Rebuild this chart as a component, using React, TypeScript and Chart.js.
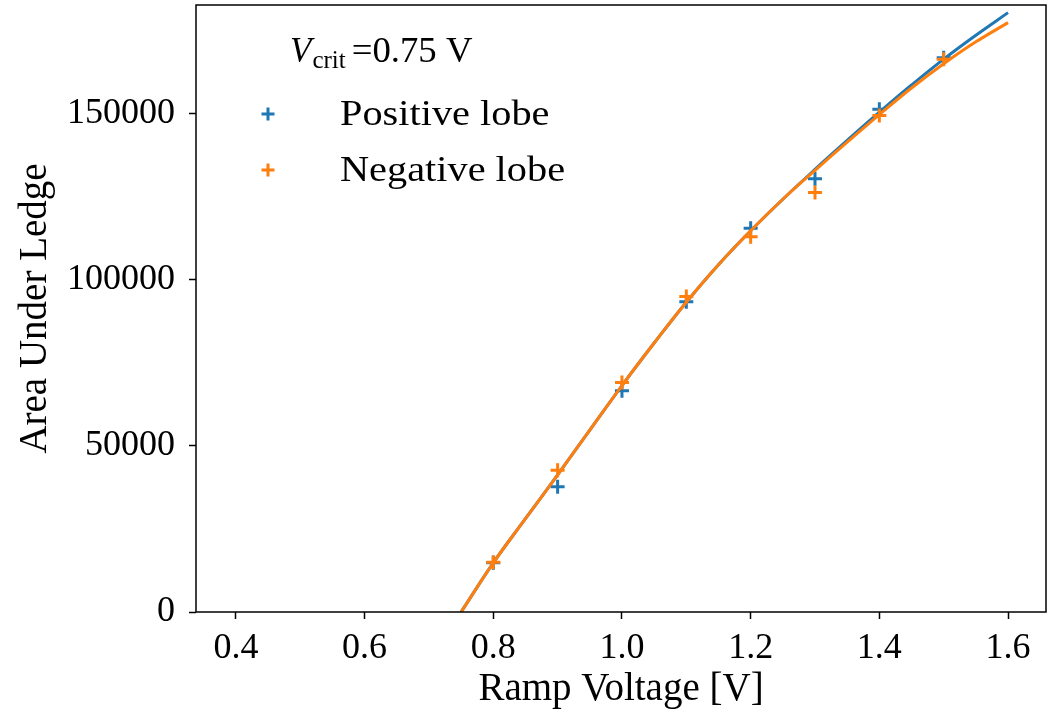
import React, { useEffect, useRef } from "react";
import { Chart, registerables } from "chart.js";

Chart.register(...registerables);

// ---- data ----
const voltages = [0.8, 0.9, 1.0, 1.1, 1.2, 1.3, 1.4, 1.5];
const positiveLobe = [14800, 37700, 66600, 93400, 115600, 130500, 151400, 166900];
const negativeLobe = [15000, 42700, 69100, 95000, 113000, 126300, 149500, 166500];

const fitVoltages = [0.75, 0.8, 0.85, 0.9, 0.95, 1.0, 1.05, 1.1, 1.15, 1.2, 1.25, 1.3, 1.35, 1.4, 1.45, 1.5, 1.55, 1.6];
const positiveFit = [0, 14800, 28100, 41300, 54800, 68200, 81000, 93300, 104600, 114800, 124300, 133300, 142000, 150500, 158700, 166500, 173700, 180500];
const negativeFit = [0, 14800, 28100, 41300, 54800, 68200, 81000, 93300, 104600, 114800, 124300, 133000, 141500, 149800, 157800, 165100, 171700, 177500];

const xTicks = [0.4, 0.6, 0.8, 1.0, 1.2, 1.4, 1.6];
const yTicks = [0, 50000, 100000, 150000];

const legendTitleSymbol = "V";
const legendTitleSub = "crit";
const legendTitleRest = "=0.75 V";
const seriesNames = ["Positive lobe", "Negative lobe"];

const BLUE = "#1f77b4";
const ORANGE = "#ff7f0e";
const FONT = '"Liberation Serif", "Times New Roman", serif';

const frameAndLegend = {
  id: "frameAndLegend",
  afterDraw(chart: any) {
    const ctx = chart.ctx;
    const a = chart.chartArea;
    ctx.save();
    // frame
    ctx.strokeStyle = "#000";
    ctx.lineWidth = 1.5;
    ctx.strokeRect(a.left, a.top, a.right - a.left, a.bottom - a.top);

    // legend title
    ctx.fillStyle = "#000";
    ctx.textBaseline = "alphabetic";
    ctx.textAlign = "left";
    let x = a.left + 94;
    const yb = a.top + 57;
    ctx.font = `italic 35px ${FONT}`;
    ctx.fillText(legendTitleSymbol, x, yb);
    x += ctx.measureText(legendTitleSymbol).width + 1;
    ctx.font = `25px ${FONT}`;
    ctx.fillText(legendTitleSub, x, yb + 6);
    x += ctx.measureText(legendTitleSub).width + 6;
    ctx.font = `35px ${FONT}`;
    ctx.save();
    ctx.translate(x, yb);
    ctx.scale(1.05, 1);
    ctx.fillText(legendTitleRest, 0, 0);
    ctx.restore();

    // entries
    const colors = [BLUE, ORANGE];
    seriesNames.forEach((name, i) => {
      const cy = a.top + 109 + i * 56;
      const mx = a.left + 72;
      ctx.strokeStyle = colors[i];
      ctx.lineWidth = 3;
      ctx.beginPath();
      ctx.moveTo(mx - 6.5, cy);
      ctx.lineTo(mx + 6.5, cy);
      ctx.moveTo(mx, cy - 6.5);
      ctx.lineTo(mx, cy + 6.5);
      ctx.stroke();
      ctx.fillStyle = "#000";
      ctx.font = `36px ${FONT}`;
      ctx.save();
      ctx.translate(a.left + 144, cy + 11);
      ctx.scale(1.12, 1);
      ctx.fillText(name, 0, 0);
      ctx.restore();
    });
    ctx.restore();
  },
};

export default function App() {
  const ref = useRef<HTMLCanvasElement | null>(null);

  useEffect(() => {
    document.body.style.margin = "0";
    const canvas = ref.current;
    if (!canvas) return;
    const chart = new Chart(canvas, {
      type: "scatter",
      data: {
        datasets: [
          {
            label: seriesNames[0],
            data: voltages.map((v, i) => ({ x: v, y: positiveLobe[i] })),
            showLine: false,
            pointStyle: "cross",
            pointRadius: 7,
            pointBorderWidth: 3,
            borderColor: BLUE,
            backgroundColor: BLUE,
            order: 4,
          },
          {
            label: "fit positive",
            data: fitVoltages.map((v, i) => ({ x: v, y: positiveFit[i] })),
            showLine: true,
            pointRadius: 0,
            borderColor: BLUE,
            borderWidth: 3,
            tension: 0.4,
            order: 3,
          },
          {
            label: seriesNames[1],
            data: voltages.map((v, i) => ({ x: v, y: negativeLobe[i] })),
            showLine: false,
            pointStyle: "cross",
            pointRadius: 7,
            pointBorderWidth: 3,
            borderColor: ORANGE,
            backgroundColor: ORANGE,
            order: 2,
          },
          {
            label: "fit negative",
            data: fitVoltages.map((v, i) => ({ x: v, y: negativeFit[i] })),
            showLine: true,
            pointRadius: 0,
            borderColor: ORANGE,
            borderWidth: 3,
            tension: 0.4,
            order: 1,
          },
        ] as any,
      },
      options: {
        animation: false,
        responsive: false,
        devicePixelRatio: 1,
        layout: { autoPadding: false, padding: { top: 5, right: 8, left: 0, bottom: 0 } },
        plugins: {
          legend: { display: false },
          tooltip: { enabled: false },
        },
        scales: {
          x: {
            type: "linear",
            min: 0.338,
            max: 1.659,
            afterFit: (s: any) => {
              s.height = 102;
              s.paddingLeft = 0;
              s.paddingRight = 0;
              s.paddingTop = 0;
              s.paddingBottom = 0;
            },
            afterBuildTicks: (s: any) => {
              s.ticks = xTicks.map((v) => ({ value: v }));
            },
            grid: {
              display: true,
              drawOnChartArea: false,
              drawTicks: true,
              tickLength: 7,
              tickWidth: 1.5,
              tickColor: "#000",
            },
            border: { display: false },
            ticks: {
              color: "#000",
              font: { family: FONT, size: 36 },
              padding: 8,
              maxRotation: 0,
              autoSkip: false,
              callback: (v: any) => Number(v).toFixed(1),
            },
            title: {
              display: true,
              text: "Ramp Voltage [V]",
              color: "#000",
              font: { family: FONT, size: 39 },
              padding: { top: 0, bottom: 1 },
            },
          },
          y: {
            type: "linear",
            min: 0,
            max: 182800,
            afterFit: (s: any) => {
              s.width = 196;
              s.paddingTop = 0;
              s.paddingBottom = 0;
              s.paddingLeft = 0;
              s.paddingRight = 0;
            },
            afterBuildTicks: (s: any) => {
              s.ticks = yTicks.map((v) => ({ value: v }));
            },
            grid: {
              display: true,
              drawOnChartArea: false,
              drawTicks: true,
              tickLength: 7,
              tickWidth: 1.5,
              tickColor: "#000",
            },
            border: { display: false },
            ticks: {
              color: "#000",
              font: { family: FONT, size: 36 },
              padding: 14,
              autoSkip: false,
              callback: (v: any) => String(v),
            },
            title: {
              display: true,
              text: "Area Under Ledge",
              color: "#000",
              font: { family: FONT, size: 39 },
              padding: { top: 12, bottom: 0 },
            },
          },
        },
      } as any,
      plugins: [frameAndLegend],
    });
    return () => chart.destroy();
  }, []);

  return (
    <div style={{ width: 1054, height: 714, background: "#fff" }}>
      <canvas ref={ref} width={1054} height={714} style={{ display: "block" }} />
    </div>
  );
}
